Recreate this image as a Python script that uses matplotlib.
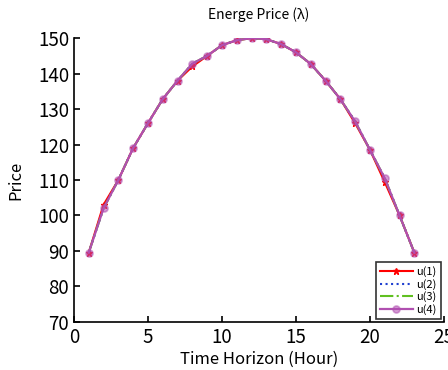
import matplotlib
matplotlib.use("Agg")
import matplotlib.pyplot as plt

plt.rcParams['font.family'] = ['Noto Sans CJK KR', 'DejaVu Sans']

hours = list(range(1, 24))
u1 = [89.5, 103, 110, 119, 126, 132.8, 138, 142, 145, 148, 149.4, 150, 149.7,
      148.3, 146, 142.7, 138, 132.8, 126, 118.5, 109.4, 100, 89.5]
u2 = [89.5, 102, 110, 119, 126, 132.8, 138, 142.8, 145, 148, 149.4, 150, 149.7,
      148.3, 146, 142.7, 138, 132.8, 126.5, 118.5, 110.5, 100, 89.5]
u3 = list(u2)
u4 = list(u2)

xticks = [0, 5, 10, 15, 20, 25]
yticks = [70, 80, 90, 100, 110, 120, 130, 140, 150]

fig = plt.figure(figsize=(4.48, 3.7), dpi=100)
ax = fig.add_axes([0.165, 0.13, 0.826, 0.767])

ax.plot(hours, u1, color="red", lw=1.5, marker="*", ms=5, label="u(1)")
ax.plot(hours, u2, color="#2040d0", lw=1.5, ls=":", label="u(2)")
ax.plot(hours, u3, color="#60c020", lw=1.5, ls="-.", label="u(3)")
ax.plot(hours, u4, color="#b050b0", lw=1.6, marker="o", ms=5,
        mfc=(0.7, 0.3, 0.7, 0.55), mew=1.2, label="u(4)")

ax.set_xlim(0, 25)
ax.set_ylim(70, 150)
ax.set_xticks(xticks)
ax.set_yticks(yticks)
ax.spines['top'].set_visible(False)
ax.spines['right'].set_visible(False)
ax.spines['left'].set_linewidth(1.2)
ax.spines['bottom'].set_linewidth(1.2)
ax.tick_params(direction="in", labelsize=13.5, length=4, width=1.2)
ax.set_title("Energe Price (λ)", fontsize=10, pad=14)
ax.set_xlabel("Time Horizon (Hour)", fontsize=12, labelpad=2)
ax.set_ylabel("Price", fontsize=12, labelpad=10)

leg = ax.legend(loc="lower right", fontsize=8, frameon=True, fancybox=False,
                edgecolor="black", borderaxespad=0.3, handlelength=3.0,
                labelspacing=0.15, borderpad=0.35, handletextpad=0.3)
leg.get_frame().set_linewidth(1.2)

fig.savefig("out.png", dpi=100)
